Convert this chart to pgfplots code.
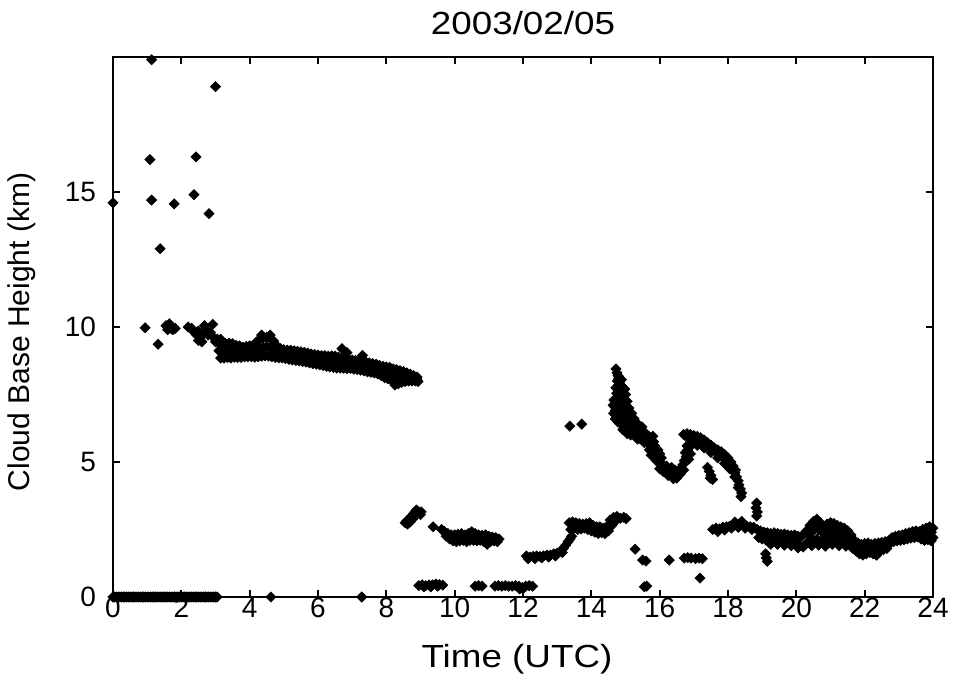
\documentclass[border=0pt]{standalone}
\usepackage{fontspec}
\setmainfont{Liberation Sans}
\newfontfamily\widefont{Liberation Sans}[FakeStretch=1.15]
\usepackage{pgfplots}
\pgfplotsset{compat=1.18}
\pgfplotsset{cb/.style={only marks, mark=square*, mark size=1.8bp,
  mark options={rotate=45, fill=black, draw=black, line width=0.3bp}}}
\begin{document}
\begin{tikzpicture}
\path[use as bounding box] (0,0) rectangle (476.5bp,339.5bp);
\begin{axis}[
  at={(56.5bp,41bp)}, anchor=south west,
  scale only axis, width=410bp, height=270bp,
  xmin=0, xmax=24, ymin=0, ymax=20,
  xtick={0,2,...,24}, ytick={0,5,10,15},
  tick align=inside, major tick length=3.5bp,
  axis line style={line width=1bp},
  every tick/.style={black, line width=1bp},
  clip=false,
  /pgf/number format/assume math mode=true,
  ticklabel style={font=\fontsize{14bp}{16bp}\selectfont},
  xticklabel style={anchor=base, yshift=-10bp},
  yticklabel style={anchor=east, xshift=-5bp},
  title={2003/02/05},
  title style={font=\widefont\fontsize{16bp}{18bp}\selectfont, anchor=base, at={([yshift=5.5bp]axis description cs:0.5,1)}},
  xlabel={Time (UTC)},
  xlabel style={font=\widefont\fontsize{16bp}{18bp}\selectfont, anchor=base, at={([xshift=-3bp,yshift=-35bp]axis description cs:0.5,0)}},
  ylabel={Cloud Base Height (km)},
  ylabel style={font=\fontsize{15bp}{17bp}\selectfont, anchor=center, at={([xshift=-45.5bp,yshift=-2.5bp]axis description cs:0,0.5)}},
]
% zero line
\addplot[cb] coordinates {(0,0) (0.05,0) (0.1,0) (0.15,0) (0.2,0) (0.25,0) (0.3,0) (0.35,0) (0.4,0) (0.45,0) (0.5,0) (0.55,0) (0.6,0) (0.65,0) (0.7,0) (0.75,0) (0.8,0) (0.85,0) (0.9,0) (0.95,0) (1,0) (1.05,0) (1.1,0) (1.15,0) (1.2,0) (1.25,0) (1.3,0) (1.35,0) (1.4,0) (1.45,0) (1.5,0) (1.55,0) (1.6,0) (1.65,0) (1.7,0) (1.75,0) (1.8,0) (1.85,0) (1.9,0) (1.95,0) (2,0) (2.05,0) (2.1,0) (2.15,0) (2.2,0) (2.25,0) (2.3,0) (2.35,0) (2.4,0) (2.45,0) (2.5,0) (2.55,0) (2.6,0) (2.65,0) (2.7,0) (2.75,0) (2.8,0) (2.85,0) (2.9,0) (2.95,0) (3,0) (3.05,0) (4.62,0) (7.28,0)};
% high scattered
\addplot[cb] coordinates {(0,14.6) (1.13,19.9) (3.0,18.9) (1.08,16.2) (2.43,16.3) (1.13,14.7) (1.79,14.56) (2.37,14.9) (2.81,14.2) (1.38,12.9)};
% ~10 km cluster
\addplot[cb] coordinates {(0.94,9.97) (1.32,9.36) (1.55,10.05) (1.6,9.9) (1.65,10.12) (1.7,9.95) (1.75,9.9) (1.82,9.95) (2.2,10.0) (2.3,9.95) (2.38,9.8) (2.45,9.7) (2.5,9.85) (2.55,9.6) (2.62,9.75) (2.68,10.05) (2.72,9.9) (2.78,9.7) (2.85,9.8) (2.92,10.1) (2.95,9.6) (3.0,9.45) (2.5,9.5) (2.6,9.45) (3.05,9.55) (3.15,9.55)};
% 9-8 km band upper
\addplot[cb] coordinates {(3.1,9.4) (3.2,9.42) (3.3,9.38) (3.4,9.4) (3.5,9.38) (3.6,9.32) (3.7,9.3) (3.8,9.25) (3.9,9.28) (4.0,9.3) (4.1,9.32) (4.2,9.45) (4.3,9.55) (4.4,9.6) (4.5,9.62) (4.6,9.58) (4.7,9.48) (4.8,9.3) (4.9,9.2) (5.0,9.16) (5.1,9.14) (5.2,9.14) (5.3,9.12) (5.4,9.1) (5.5,9.08) (5.6,9.06) (5.7,9.03) (5.8,9.0) (5.9,8.98) (6.0,8.96) (6.1,8.94) (6.2,8.94) (6.3,8.92) (6.4,8.93) (6.5,8.92) (6.6,8.88) (6.7,8.85) (6.8,8.82) (6.9,8.8) (7.0,8.78) (7.1,8.76) (7.2,8.75) (7.3,8.72) (7.4,8.7) (7.5,8.67) (7.6,8.65) (7.7,8.62) (7.8,8.58) (7.9,8.54) (8.0,8.52) (8.1,8.5) (8.2,8.45) (8.3,8.42) (8.4,8.38) (8.5,8.35) (8.6,8.3) (8.7,8.25) (8.8,8.2) (8.9,8.15)};
% 9-8 km band middle
\addplot[cb] coordinates {(3.1,9.12) (3.2,9.13) (3.3,9.12) (3.4,9.12) (3.5,9.13) (3.6,9.1) (3.7,9.08) (3.8,9.07) (3.9,9.08) (4.0,9.1) (4.1,9.1) (4.2,9.18) (4.3,9.22) (4.4,9.25) (4.5,9.27) (4.6,9.22) (4.7,9.17) (4.8,9.08) (4.9,9.03) (5.0,9.0) (5.1,8.97) (5.2,8.96) (5.3,8.94) (5.4,8.92) (5.5,8.9) (5.6,8.88) (5.7,8.85) (5.8,8.82) (5.9,8.8) (6.0,8.78) (6.1,8.76) (6.2,8.74) (6.3,8.72) (6.4,8.72) (6.5,8.7) (6.6,8.68) (6.7,8.66) (6.8,8.64) (6.9,8.63) (7.0,8.62) (7.1,8.6) (7.2,8.58) (7.3,8.55) (7.4,8.52) (7.5,8.5) (7.6,8.48) (7.7,8.45) (7.8,8.4) (7.9,8.34) (8.0,8.3) (8.1,8.27) (8.2,8.2) (8.3,8.16) (8.4,8.15) (8.5,8.15) (8.6,8.15) (8.7,8.12) (8.8,8.1) (8.9,8.07)};
% 9-8 km band lower
\addplot[cb] coordinates {(3.15,8.85) (3.25,8.85) (3.35,8.87) (3.45,8.85) (3.55,8.88) (3.65,8.87) (3.75,8.87) (3.85,8.9) (3.95,8.9) (4.05,8.9) (4.15,8.88) (4.25,8.9) (4.35,8.92) (4.45,8.93) (4.55,8.92) (4.65,8.9) (4.75,8.87) (4.85,8.86) (4.95,8.85) (5.05,8.83) (5.15,8.8) (5.25,8.78) (5.35,8.76) (5.45,8.74) (5.55,8.72) (5.65,8.7) (5.75,8.67) (5.85,8.64) (5.95,8.62) (6.05,8.6) (6.15,8.57) (6.25,8.54) (6.35,8.52) (6.45,8.5) (6.55,8.48) (6.65,8.48) (6.75,8.47) (6.85,8.46) (6.95,8.47) (7.05,8.44) (7.15,8.42) (7.25,8.4) (7.35,8.37) (7.45,8.34) (7.55,8.32) (7.65,8.3) (7.75,8.26) (7.85,8.2) (7.95,8.12) (8.05,8.08) (8.15,8.03) (8.25,7.95) (8.35,7.9) (8.45,7.95) (8.55,7.98) (8.65,8.0) (8.75,8.0) (8.85,8.0) (8.93,7.98)};
% band outliers
\addplot[cb] coordinates {(6.7,9.2) (6.85,9.05) (7.3,8.95) (8.25,7.85) (4.35,9.7) (4.6,9.7)};
% ~3 km cluster near 9 h
\addplot[cb] coordinates {(8.55,2.75) (8.6,2.82) (8.62,2.7) (8.66,2.85) (8.7,2.92) (8.74,3.0) (8.78,2.9) (8.8,3.08) (8.84,3.15) (8.88,3.22) (8.92,3.18) (8.96,3.1) (9.0,3.05) (8.7,2.78) (9.02,3.15)};
% 2.2 km band
\addplot[cb] coordinates {(9.37,2.6) (9.62,2.5) (9.7,2.42) (9.8,2.35) (9.9,2.3) (10.0,2.3) (10.1,2.32) (10.2,2.35) (10.3,2.3) (10.4,2.35) (10.5,2.42) (10.6,2.35) (10.7,2.3) (10.8,2.28) (10.9,2.3) (11.0,2.25) (11.1,2.22) (11.2,2.2) (11.3,2.15) (9.75,2.25) (9.85,2.15) (9.95,2.08) (10.05,2.05) (10.15,2.08) (10.25,2.1) (10.35,2.05) (10.45,2.1) (10.55,2.1) (10.65,2.08) (10.75,2.1) (10.85,2.05) (10.95,1.95) (11.05,2.05) (11.15,2.08) (11.25,2.05)};
% 0.4 km band
\addplot[cb] coordinates {(8.95,0.42) (9.05,0.45) (9.15,0.42) (9.25,0.45) (9.35,0.45) (9.45,0.48) (9.55,0.46) (9.65,0.44) (9.1,0.38) (9.3,0.38) (9.5,0.4) (10.6,0.4) (10.7,0.42) (10.8,0.4) (11.18,0.4) (11.28,0.42) (11.38,0.4) (11.48,0.42) (11.58,0.4) (11.68,0.4) (11.78,0.42) (11.88,0.4) (11.98,0.35) (12.08,0.4) (12.18,0.42) (12.28,0.4) (11.9,0.3) (12.0,0.3)};
% rising 1.5 km band
\addplot[cb] coordinates {(12.1,1.52) (12.2,1.48) (12.3,1.5) (12.4,1.52) (12.5,1.5) (12.6,1.52) (12.7,1.55) (12.8,1.55) (12.9,1.6) (13.0,1.62) (13.1,1.7) (13.18,1.8) (13.25,1.92) (13.32,2.05) (13.38,2.15) (13.42,2.25) (12.15,1.42) (12.35,1.42) (12.55,1.45) (12.75,1.48) (12.95,1.52) (13.15,1.65)};
% 2.7 km band
\addplot[cb] coordinates {(13.35,2.75) (13.45,2.78) (13.55,2.75) (13.65,2.72) (13.75,2.7) (13.85,2.72) (13.95,2.75) (14.05,2.65) (14.15,2.6) (14.25,2.6) (14.35,2.55) (14.45,2.6) (14.55,2.85) (14.65,2.95) (14.75,2.98) (14.85,2.92) (14.95,2.95) (15.02,2.9) (13.4,2.5) (13.5,2.55) (13.6,2.5) (13.7,2.52) (13.8,2.55) (13.9,2.5) (14.0,2.45) (14.1,2.4) (14.2,2.35) (14.3,2.38) (14.4,2.35) (14.5,2.45) (14.6,2.65) (14.7,2.8) (13.5,2.65) (13.7,2.62) (13.9,2.62) (14.1,2.52) (14.3,2.48)};
% two points at 6.3 km
\addplot[cb] coordinates {(13.37,6.33) (13.72,6.4)};
% steep band
\addplot[cb] coordinates {(14.72,8.45) (14.75,8.3) (14.78,8.2) (14.8,8.1) (14.76,8.0) (14.82,7.95) (14.8,7.85) (14.84,7.75) (14.8,7.65) (14.86,7.6) (14.82,7.5) (14.88,7.45) (14.78,7.35) (14.86,7.3) (14.72,7.2) (14.82,7.15) (14.92,7.18) (14.68,7.05) (14.78,7.0) (14.9,6.98) (14.7,6.9) (14.8,6.85) (14.95,6.85) (14.72,6.75) (14.85,6.7) (15.0,6.72) (14.78,6.6) (14.92,6.55) (15.05,6.58) (14.85,6.45) (15.0,6.4) (15.12,6.42) (14.95,6.3) (15.1,6.25) (15.22,6.25) (15.08,6.15) (15.22,6.1) (15.35,6.1) (15.3,6.0) (15.45,5.98) (15.55,5.92) (15.42,5.88) (15.6,5.82) (15.7,5.8) (15.65,5.7) (15.78,5.68)};
\addplot[cb] coordinates {(14.88,8.05) (14.9,7.8) (14.92,7.6) (14.72,7.75) (14.74,7.55) (14.66,7.3) (14.96,7.35) (14.98,7.1) (14.64,7.1) (15.0,6.95) (14.65,6.8) (15.08,6.75) (14.7,6.6) (15.15,6.6) (14.78,6.48) (15.2,6.45) (15.28,6.3) (14.92,6.2) (15.4,6.2) (15.05,6.05) (15.5,6.1) (15.15,6.0) (15.35,5.85) (15.5,5.8) (15.75,5.9) (15.55,5.72) (15.82,5.75) (15.7,5.45) (15.95,5.45) (15.75,5.25) (16.0,5.3) (15.9,5.05) (16.05,5.15) (15.0,7.5) (14.98,7.7) (15.05,7.25) (15.1,7.0) (15.18,6.8) (15.25,6.6) (15.35,6.42) (15.48,6.3) (15.6,6.05) (15.68,5.95) (15.8,5.95)};
% descending arm and rising arm
\addplot[cb] coordinates {(15.75,5.55) (15.85,5.6) (15.8,5.4) (15.9,5.35) (15.85,5.2) (15.95,5.15) (16.0,5.0) (16.1,4.9) (16.05,4.8) (16.15,4.75) (16.25,4.7) (16.2,4.6) (16.3,4.55) (16.4,4.5) (16.35,4.65) (16.45,4.48) (16.5,4.55) (16.55,4.65) (16.6,4.75) (16.68,4.9) (16.72,5.05) (16.78,5.2) (16.75,5.35) (16.82,5.45) (16.8,5.6) (16.0,4.75) (16.2,4.85) (16.35,4.8) (16.45,4.7) (16.55,4.5) (16.4,4.38) (16.5,4.4) (16.6,4.55) (16.1,4.65) (16.25,4.5) (16.85,5.1) (16.9,5.3) (16.7,4.7) (16.88,5.55)};
% peak band
\addplot[cb] coordinates {(16.7,6.02) (16.8,6.05) (16.9,6.02) (17.0,5.98) (17.1,5.95) (17.2,5.9) (16.85,5.85) (16.95,5.82) (17.05,5.8) (17.15,5.75) (17.25,5.72) (17.3,5.82) (17.35,5.7) (17.4,5.72) (17.45,5.58) (17.5,5.62) (17.55,5.48) (17.6,5.52) (17.65,5.38) (17.7,5.45) (17.75,5.25) (17.8,5.38) (17.85,5.18) (17.9,5.28) (17.95,5.08) (18.0,5.15) (18.05,4.92) (18.08,5.0) (18.12,4.75) (18.15,4.85) (18.2,4.6) (18.22,4.7) (18.25,4.45) (18.3,4.3) (18.32,4.15) (18.36,4.0) (18.4,3.85) (18.38,3.72) (16.9,5.7) (17.1,5.62) (17.3,5.52) (17.5,5.35) (17.7,5.15) (17.9,4.95) (18.05,4.75) (18.2,4.45) (18.3,4.05)};
% small clusters
\addplot[cb] coordinates {(17.4,4.8) (17.45,4.65) (17.5,4.5) (17.55,4.35) (17.48,4.4) (18.84,3.48) (18.82,3.3) (18.86,3.15) (18.84,3.0)};
% scattered low points
\addplot[cb] coordinates {(15.28,1.77) (15.5,1.37) (15.6,1.33) (16.28,1.37) (16.72,1.44) (16.82,1.46) (16.92,1.44) (17.05,1.42) (17.15,1.44) (17.25,1.42) (17.18,0.7) (15.55,0.38) (15.62,0.4) (19.1,1.6) (19.12,1.45) (19.15,1.32)};
% lower band 17.5-20.2
\addplot[cb] coordinates {(17.55,2.5) (17.65,2.55) (17.75,2.52) (17.85,2.58) (17.95,2.6) (18.05,2.62) (18.15,2.65) (18.25,2.7) (18.35,2.72) (18.45,2.65) (18.55,2.62) (18.65,2.6) (18.75,2.58) (17.7,2.42) (17.9,2.48) (18.1,2.55) (18.3,2.58) (18.5,2.55) (18.7,2.5) (18.2,2.78) (18.4,2.8) (18.85,2.5) (18.95,2.45) (19.05,2.4) (19.15,2.38) (19.25,2.35) (19.35,2.38) (19.45,2.35) (19.55,2.32) (19.65,2.33) (19.75,2.3) (19.85,2.28) (19.95,2.3) (20.05,2.25) (20.15,2.25) (18.9,2.2) (19.0,2.15) (19.1,2.12) (19.2,2.1) (19.3,2.08) (19.4,2.1) (19.5,2.05) (19.6,2.08) (19.7,2.05) (19.8,2.02) (19.9,2.0) (20.0,1.95) (20.1,1.9) (20.2,1.85) (19.25,1.95) (19.45,1.95) (19.65,1.92) (19.85,1.9) (20.05,1.82)};
% thick cluster 20.3-21.6
\addplot[cb] coordinates {(20.3,2.45) (20.4,2.65) (20.5,2.8) (20.6,2.88) (20.7,2.75) (20.8,2.6) (20.9,2.7) (21.0,2.75) (21.1,2.72) (21.2,2.65) (21.3,2.6) (21.4,2.55) (21.5,2.45) (21.6,2.3) (20.35,2.3) (20.45,2.4) (20.55,2.55) (20.65,2.5) (20.75,2.4) (20.85,2.35) (20.95,2.5) (21.05,2.45) (21.15,2.35) (21.25,2.3) (21.35,2.4) (21.45,2.3) (21.55,2.2) (20.3,2.0) (20.4,2.05) (20.5,2.1) (20.6,2.15) (20.7,2.05) (20.8,2.1) (20.9,2.05) (21.0,2.15) (21.1,2.1) (21.2,2.05) (21.3,2.1) (21.4,2.05) (21.5,2.0) (21.6,1.95) (20.45,1.9) (20.65,1.92) (20.85,1.88) (21.05,1.95) (21.25,1.9) (21.45,1.88)};
% dip 21.6-22.7
\addplot[cb] coordinates {(21.7,2.1) (21.8,2.0) (21.9,1.95) (22.0,1.98) (22.1,2.0) (22.2,1.95) (22.3,1.98) (22.4,2.0) (22.5,2.02) (22.6,2.05) (22.7,2.08) (21.65,1.8) (21.75,1.7) (21.85,1.6) (21.95,1.55) (22.05,1.6) (22.15,1.65) (22.25,1.6) (22.35,1.55) (22.45,1.7) (22.55,1.75) (22.65,1.8) (21.8,1.8) (22.0,1.75) (22.2,1.8) (22.4,1.8) (22.6,1.9)};
% right part 22.7-24
\addplot[cb] coordinates {(22.8,2.2) (22.9,2.25) (23.0,2.28) (23.1,2.3) (23.2,2.35) (23.3,2.38) (23.4,2.42) (23.5,2.45) (23.6,2.42) (23.7,2.5) (23.8,2.55) (23.9,2.6) (24.0,2.55) (22.75,2.0) (22.85,2.05) (22.95,2.08) (23.05,2.1) (23.15,2.12) (23.25,2.15) (23.35,2.18) (23.45,2.2) (23.55,2.22) (23.65,2.15) (23.75,2.1) (23.85,2.12) (23.95,2.08) (24.0,2.2) (23.0,2.18) (23.2,2.25) (23.4,2.3) (23.6,2.32) (23.8,2.35) (23.95,2.4)};
\end{axis}
\end{tikzpicture}
\end{document}
